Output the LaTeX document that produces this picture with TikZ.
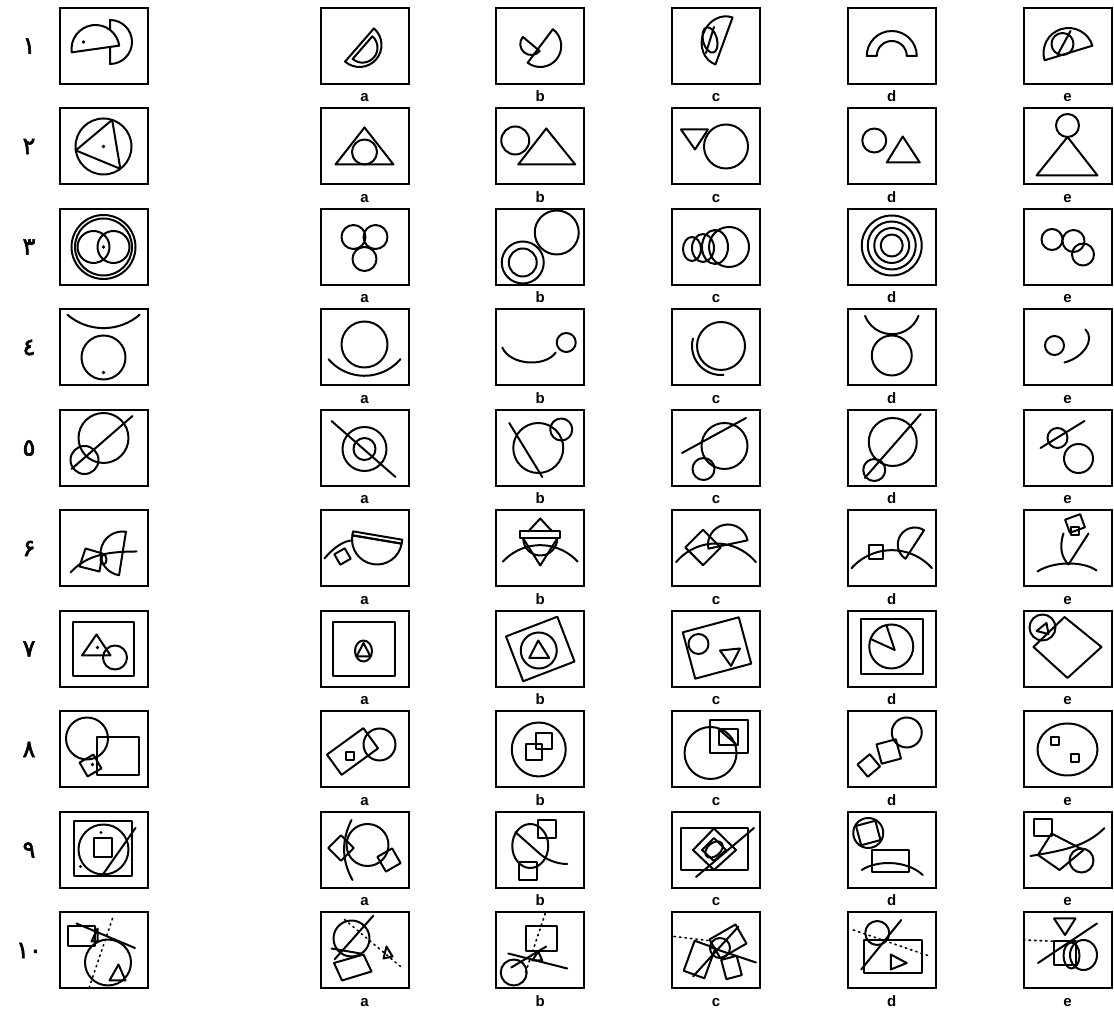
\documentclass[tikz,border=0pt]{standalone}
\usepackage{fontspec}
\setmainfont{Liberation Sans}
\newfontfamily\digitfont[FakeBold=2.5]{DejaVu Sans}
\usetikzlibrary{positioning}

\begin{document}
\begin{tikzpicture}[
  x=1pt, y=1pt, line width=2pt, line join=round, line cap=round,
  frame/.style={draw,line width=2pt,line join=miter,minimum width=88pt,minimum height=76pt,inner sep=0pt},
  tag/.style={font=\fontsize{15}{15}\selectfont\bfseries,inner sep=0pt,text height=10pt,text depth=0pt},
  num/.style={font=\digitfont\fontsize{24}{24}\selectfont,inner sep=0pt},
  dotline/.style={line width=1.6pt,dash pattern=on 1.5pt off 4pt}
]
\useasboundingbox (0,0) rectangle (1114,1009);

\foreach \row/\n in {1/١,2/٢,3/٣,4/٤,5/٥,6/۶,7/٧,8/٨,9/٩,10/{\hbox{١}\hbox{٠}}} {
  \pgfmathsetmacro\yy{963-(\row-1)*100.5}
  \node[num] (n\row) at (29,\yy) {\n};
  \node[frame] (q\row) at (103.5,\yy) {};
  \foreach \col/\xx in {a/364.5,b/540.25,c/716,d/891.75,e/1067.5} {
    \node[frame] (\col\row) at (\xx,\yy) {};
    \node[tag,below=6pt of \col\row] (t\col\row) {\col};
  }
}

\begin{scope}[shift={(q1)}]
  \draw (6.5,-18) arc (-90:90:22) -- cycle;
  \draw[fill=white,rotate around={8:(-8,-3)}] (16,-3) arc (0:180:24) -- cycle;
  \fill (-20,4) circle (1.8);
\end{scope}
\begin{scope}[shift={(a1)}]
  \draw[rotate around={49:(-5,1)}] (-27,1) arc (180:360:22) -- cycle;
  \draw[rotate around={49:(-5,1)}] (-20,-3) arc (180:360:15) -- cycle;
\end{scope}
\begin{scope}[shift={(b1)}]
  \draw[rotate=53] (-21,0) arc (180:360:21) -- cycle;
  \draw[rotate around={-40:(-9,2)}] (-20,2) arc (180:360:11) -- cycle;
\end{scope}
\begin{scope}[shift={(c1)}]
  \draw[rotate around={70:(8,5)}] (-17,5) arc (180:0:25 and 22) -- cycle;
  \draw[rotate around={15:(-6,6)}] (-6,6) ellipse (7 and 13);
  \draw (-2,19) -- (-10,-7);
\end{scope}
\begin{scope}[shift={(d1)}]
  \draw (-25,-10) arc (180:0:25) -- (15,-10) arc (0:180:15) -- cycle;
\end{scope}
\begin{scope}[shift={(e1)}]
  \draw[rotate around={17:(1,-7)}] (-24,-7) arc (180:0:25) -- cycle;
  \draw (-5,2) circle (11);
  \draw (-10,-9) -- (3,15);
\end{scope}

\begin{scope}[shift={(q2)}]
  \draw (0,0) circle (28);
  \draw (188:28) -- (72:28) -- (-53:28) -- cycle;
  \fill (0,0) circle (1.8);
\end{scope}
\begin{scope}[shift={(a2)}]
  \draw (-29,-18) -- (29,-18) -- (0,19) -- cycle;
  \draw (0,-5.5) circle (12.5);
\end{scope}
\begin{scope}[shift={(b2)}]
  \draw (-25,6) circle (14);
  \draw (-22,-18) -- (35,-18) -- (6,18) -- cycle;
\end{scope}
\begin{scope}[shift={(c2)}]
  \draw (10,0) circle (22);
  \draw (-35,17) -- (-8,17) -- (-21,-3) -- cycle;
\end{scope}
\begin{scope}[shift={(d2)}]
  \draw (-17.5,6) circle (12);
  \draw (-5,-16) -- (28,-16) -- (11,10) -- cycle;
\end{scope}
\begin{scope}[shift={(e2)}]
  \draw (0,21) circle (11.5);
  \draw (-31,-29) -- (30,-29) -- (0,9.5) -- cycle;
\end{scope}

\begin{scope}[shift={(q3)}]
  \draw (0,0) circle (32) circle (28.5);
  \draw (-10,0) circle (16) (10,0) circle (16);
  \fill (0,0) circle (1.8);
\end{scope}
\begin{scope}[shift={(a3)}]
  \draw (-11,10) circle (12) (11,10) circle (12) (0,-12) circle (12);
\end{scope}
\begin{scope}[shift={(b3)}]
  \draw (16.5,14.5) circle (22);
  \draw (-17.5,-15.5) circle (21) circle (14);
\end{scope}
\begin{scope}[shift={(c3)}]
  \draw (-24,-2) ellipse (9 and 12) (-13,-1) ellipse (11 and 14)
        (-1,0) ellipse (13 and 17) (13,0) ellipse (20 and 20);
\end{scope}
\begin{scope}[shift={(d3)}]
  \draw (0,1.5) circle (30) circle (24) circle (17.5) circle (11);
\end{scope}
\begin{scope}[shift={(e3)}]
  \draw (-15.5,7.5) circle (10.5) (6,6) circle (11) (15.5,-7.5) circle (11);
\end{scope}

\begin{scope}[shift={(q4)}]
  \draw (0,-10) circle (22);
  \draw (-36,32.7) arc (-130.6:-49.4:55.4);
  \fill (0,-25) circle (1.8);
\end{scope}
\begin{scope}[shift={(a4)}]
  \draw (0,3) circle (23);
  \draw (-36,-11.7) arc (-139.5:-40.5:47.3);
\end{scope}
\begin{scope}[shift={(b4)}]
  \draw (-38,0) .. controls (-30,-18) and (5,-20) .. (15.5,-5);
  \draw (26,5) circle (9.5);
\end{scope}
\begin{scope}[shift={(c4)}]
  \draw (5,1.5) circle (24);
  \draw ([shift={(165:29)}]5,1.5) arc (165:275:29);
\end{scope}
\begin{scope}[shift={(d4)}]
  \draw (0,-8) circle (20);
  \draw (-26.7,31.7) arc (-159.1:-20.9:28.6);
\end{scope}
\begin{scope}[shift={(e4)}]
  \draw (-13,2) circle (9.5);
  \draw (18,18) .. controls (28,8) and (16,-10) .. (-3,-15);
\end{scope}

\begin{scope}[shift={(q5)}]
  \draw (0,10) circle (25);
  \draw (-19,-12) circle (14);
  \draw (-32,-21) -- (29,32);
\end{scope}
\begin{scope}[shift={(a5)}]
  \draw (0,-1) circle (22) circle (11);
  \draw (-33,27) -- (31,-29);
\end{scope}
\begin{scope}[shift={(b5)}]
  \draw (-2,0) circle (25);
  \draw (21,18.5) circle (11);
  \draw (-31,25) -- (2,-29);
\end{scope}
\begin{scope}[shift={(c5)}]
  \draw (8.5,2) circle (23);
  \draw (-12.5,-21) circle (11);
  \draw (-34,-5) -- (30,30);
\end{scope}
\begin{scope}[shift={(d5)}]
  \draw (1,6) circle (24);
  \draw (-17.5,-22) circle (11);
  \draw (-27,-30) -- (29,34);
\end{scope}
\begin{scope}[shift={(e5)}]
  \draw (-10,10) circle (10);
  \draw (11,-10.5) circle (14.5);
  \draw (-27,0) -- (17,27);
\end{scope}

\begin{scope}[shift={(q6)}]
  \draw[rotate around={81:(19,-5)}] (-3,-5) arc (180:0:22) -- cycle;
  \draw (-18,0) -- (-1,-5) -- (-4,-23) -- (-24,-18) -- cycle;
  \draw (-33,-24) .. controls (-18,-8) and (0,-3) .. (33,-3);
  \draw (0,-11) ellipse (3 and 5);
\end{scope}
\begin{scope}[shift={(a6)}]
  \draw[rotate around={-9.6:(12.5,9)}] (-12.5,9) arc (180:360:25) -- cycle;
  \draw[rotate around={-9.6:(12.5,9)}] (-12.5,9) rectangle (37.5,13);
  \draw[rotate around={30:(-22,-8)}] (-28,-14) rectangle (-16,-2);
  \draw (-40,-10) .. controls (-30,2) and (-20,8) .. (-12,8);
\end{scope}
\begin{scope}[shift={(b6)}]
  \draw (-12,17) -- (0,30) -- (12,17);
  \draw (-20,10) rectangle (20,17);
  \draw (-17,10) arc (180:360:17);
  \draw (-17,10) -- (0,-17) -- (17,10);
  \draw ([shift={(137.7:50.7)}]0,-47.4) arc (137.7:42.3:50.7);
\end{scope}
\begin{scope}[shift={(c6)}]
  \draw[rotate around={45:(-13,1)}] (-25.5,-11.5) rectangle (-0.5,13.5);
  \draw[rotate around={12:(12,4)}] (-8,4) arc (180:0:20) -- cycle;
  \draw ([shift={(140:52)}]0,-47) arc (140:40:52);
\end{scope}
\begin{scope}[shift={(d6)}]
  \draw (-23,-11) rectangle (-9,3);
  \draw[rotate around={57:(23,4)}] (6,4) arc (180:0:17) -- cycle;
  \draw ([shift={(138:54)}]0,-55.7) arc (138:42:54);
\end{scope}
\begin{scope}[shift={(e6)}]
  \draw[rotate around={20:(7.5,25)}] (-0.5,18) rectangle (15.5,32);
  \draw (3.5,13) rectangle (11.5,21);
  \draw (-4,15) .. controls (-9,0) and (-5,-10) .. (1,-16) -- (21,15);
  \draw (-30,-23) .. controls (-15,-13) and (15,-12) .. (29,-22);
\end{scope}

\begin{scope}[shift={(q7)}]
  \draw (-30.5,-27) rectangle (30,26.5);
  \draw (-21.5,-6.5) -- (7,-6.5) -- (-7,14.5) -- cycle;
  \fill (-6,1.5) circle (1.8);
  \draw (11.5,-8.5) circle (12);
\end{scope}
\begin{scope}[shift={(a7)}]
  \draw (-32,-27) rectangle (30,27);
  \draw (-1,-2) ellipse (8.5 and 10.5);
  \draw (-8,-7.5) -- (6,-7.5) -- (-1,6) -- cycle;
\end{scope}
\begin{scope}[shift={(b7)}]
  \draw[rotate=21] (-27.5,-24) rectangle (27.5,24);
  \draw (-1.5,-1.5) circle (18);
  \draw (-11,-9) -- (9,-9) -- (-2,8.5) -- cycle;
\end{scope}
\begin{scope}[shift={(c7)}]
  \draw[rotate around={15:(1,1)}] (-28,-23) rectangle (30,25);
  \draw (-17.5,5) circle (10);
  \draw (4,-1.5) -- (24,0.5) -- (15,-17) -- cycle;
\end{scope}
\begin{scope}[shift={(d7)}]
  \draw (-30.5,-25) rectangle (31,29.5);
  \draw (-0.5,2.5) circle (22);
  \draw ([shift={(160:22)}]-0.5,2.5) -- (3,-1) -- ([shift={(103:22)}]-0.5,2.5);
\end{scope}
\begin{scope}[shift={(e7)}]
  \draw (-25,21.5) circle (13);
  \draw (-31,18) -- (-21,26) -- (-19,15) -- cycle;
  \draw (-3,32) -- (34,2) -- (0,-29) -- (-34,2) -- cycle;
\end{scope}

\begin{scope}[shift={(q8)}]
  \draw (-16.5,11) circle (21);
  \draw (-6.5,-25.5) rectangle (35,12);
  \draw[rotate around={30:(-13,-16)}] (-21,-24) rectangle (-5,-8);
  \fill (-11,-15) circle (1.8);
\end{scope}
\begin{scope}[shift={(a8)}]
  \draw[rotate around={36:(-12,-2)}] (-34.5,-14.5) rectangle (10.5,10.5);
  \draw (-18.5,-11) rectangle (-10.5,-3);
  \draw (15,5) circle (16);
\end{scope}
\begin{scope}[shift={(b8)}]
  \draw (-1.5,0) circle (27);
  \draw (-4,0) rectangle (12,16);
  \draw (-14,-11) rectangle (2,5);
\end{scope}
\begin{scope}[shift={(c8)}]
  \draw (-5.5,-3.5) circle (26);
  \draw (-6.5,-3.5) rectangle (32,29);
  \draw (2.5,4) rectangle (21.5,20.5);
  \draw (2.5,20.5) -- (21.5,4);
\end{scope}
\begin{scope}[shift={(d8)}]
  \draw (15,17) circle (15);
  \draw[rotate around={15:(-3,-2)}] (-13,-12) rectangle (7,8);
  \draw[rotate around={40:(-23,-16)}] (-31,-24) rectangle (-15,-8);
\end{scope}
\begin{scope}[shift={(e8)}]
  \draw (0,0) ellipse (30 and 26);
  \draw (-17,4) rectangle (-9,12);
  \draw (3,-12.5) rectangle (11,-4.5);
\end{scope}

\begin{scope}[shift={(q9)}]
  \draw (-29.5,-26.5) rectangle (28,28.5);
  \draw (0,0.5) circle (25);
  \draw (-10,-7.5) rectangle (8,11.5);
  \draw (32,22) -- (-1,-25);
  \fill (-2.5,17.5) circle (1.6) (-23,-16.5) circle (1.6);
\end{scope}
\begin{scope}[shift={(a9)}]
  \draw (3,5) circle (21);
  \draw[rotate around={45:(-23.5,2)}] (-32.5,-7) rectangle (-14.5,11);
  \draw[rotate around={30:(24.5,-10)}] (16,-18.5) rectangle (33,-1.5);
  \draw (-13,30) .. controls (-24,8) and (-22,-12) .. (-12,-30);
\end{scope}
\begin{scope}[shift={(b9)}]
  \draw (-10,4) ellipse (18 and 22);
  \draw (-2,12) rectangle (16,30);
  \draw (-21,-30) rectangle (-3,-12);
  \draw (-25,18) -- (1,-5) .. controls (10,-12) and (20,-14) .. (27,-14);
\end{scope}
\begin{scope}[shift={(c9)}]
  \draw (-35,-20) rectangle (32,21.5);
  \draw (-23,0) -- (-2,21.5) -- (20,0) -- (-2,-20) -- cycle;
  \draw (-14,0) -- (-2,12) -- (10,0) -- (-2,-11) -- cycle;
  \draw[rotate around={40:(-2,0.5)}] (-2,0.5) ellipse (10 and 6.5);
  \draw (-20,-27) -- (38,22);
\end{scope}
\begin{scope}[shift={(d9)}]
  \draw (-23.5,17) circle (15);
  \draw[rotate around={15:(-23.5,17)}] (-33.5,7) rectangle (-13.5,27);
  \draw (-20,-22) rectangle (17.5,0);
  \draw (-30,-20) .. controls (-15,-10) and (15,-10) .. (31,-25);
\end{scope}
\begin{scope}[shift={(e9)}]
  \draw (-34,14) rectangle (-16,31);
  \draw (-29.5,-5) -- (-16,16.5) -- (16,0) -- (-8,-20) -- cycle;
  \draw (14,-10.5) circle (12);
  \draw (-37,-6) .. controls (0,0) and (20,5) .. (37,22);
\end{scope}

\begin{scope}[shift={(q10)}]
  \draw (-35.5,4) rectangle (-9,24);
  \draw (4.5,-12) circle (23);
  \draw (6,-30) -- (22,-30) -- (15,-14) -- cycle;
  \draw (-27,27) -- (31.5,2.5);
  \draw (-12,9) -- (-6,22) -- (-6,9) -- cycle;
  \draw[dotline] (9,32) -- (-14,-36);
\end{scope}
\begin{scope}[shift={(a10)}]
  \draw (-13,12) circle (18);
  \draw (-30,-9) -- (9,35);
  \draw (-33,2) -- (-4,-3);
  \draw (-30.5,-12.5) -- (-1,-4) -- (7,-21) -- (-22.5,-30) -- cycle;
  \draw[dotline] (-20,31) -- (36,-16);
  \draw (19,-8) -- (28,-6) -- (22,4) -- cycle;
\end{scope}
\begin{scope}[shift={(b10)}]
  \draw (-14.5,-1) rectangle (16.5,24);
  \draw[dotline] (5,37) -- (-15,-23);
  \draw (-8,-10) -- (2,-10) -- (-2,-1) -- cycle;
  \draw (-26.5,-22) circle (13);
  \draw (-32,-3) -- (27,-18);
  \draw (-29,-17) -- (6,4);
\end{scope}
\begin{scope}[shift={(c10)}]
  \draw[rotate around={30:(12,9)}] (-3,-2) rectangle (27,20);
  \draw (4,2.5) circle (10);
  \draw[rotate around={-20:(-16.5,-9)}] (-27.5,-25) rectangle (-5.5,7);
  \draw[rotate around={15:(15.5,-17)}] (7.5,-27) rectangle (23.5,-7);
  \draw (-23,-26) -- (22.5,24);
  \draw[dotline] (-42,14) -- (-8,10);
  \draw (-5,3) -- (40,-12);
\end{scope}
\begin{scope}[shift={(d10)}]
  \draw (-14.5,17.5) circle (12);
  \draw (-28,-22.5) rectangle (30,10.5);
  \draw (-1,-4) -- (15,-12.5) -- (-1,-19) -- cycle;
  \draw (-30.5,-19) -- (9.5,30.5);
  \draw[dotline] (-38.5,20.5) -- (39,-6);
\end{scope}
\begin{scope}[shift={(e10)}]
  \draw (-13.5,32) -- (8,32) -- (-2.5,15.5) -- cycle;
  \draw (-29.5,-12.5) -- (29.5,27);
  \draw[dotline] (-44,10.5) -- (-8,9);
  \draw (-13.5,-14.5) rectangle (8,9);
  \draw (16,-4.5) ellipse (13.5 and 15);
  \draw (4,-5) ellipse (8 and 13);
\end{scope}
\end{tikzpicture}
\end{document}
